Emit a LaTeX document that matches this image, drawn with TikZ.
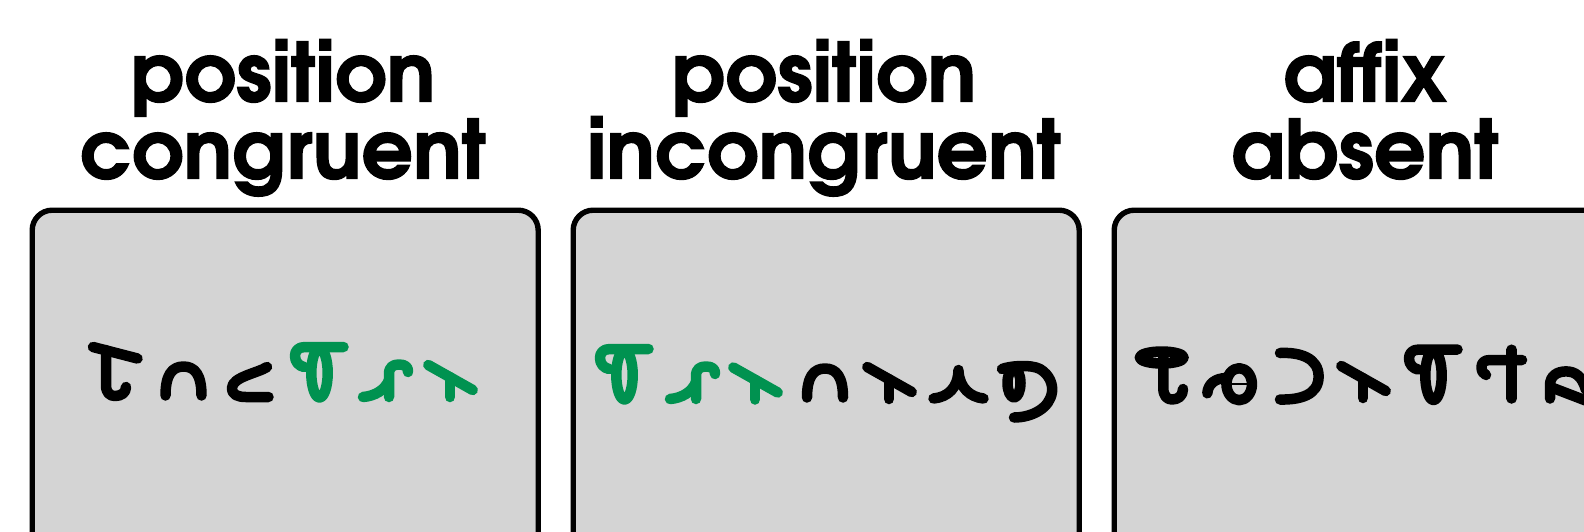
\documentclass[tikz,border=0pt]{standalone}
\usepackage{fontspec}
\newfontfamily\titlefont{texgyreadventor-bold}[Extension=.otf, FakeBold=1.6]
\definecolor{glgreen}{RGB}{0,146,80}
\definecolor{panelgray}{RGB}{212,212,212}
\tikzset{
  glyph/.style={line width=10.5pt, line cap=round, line join=round},
  panel/.style={draw=black, line width=5.4pt, fill=panelgray, rounded corners=20pt,
    minimum width=506pt, minimum height=420pt, anchor=north west, inner sep=0pt},
  title/.style={font=\titlefont\fontsize{81}{75}\selectfont, anchor=base, inner sep=0pt},
  gA/.pic={
    \draw[glyph] (93,347) -- (137.5,358.5);
    \draw[glyph] (106,350) -- (106,385) .. controls (106,393) and (110,396) .. (115,396)
      .. controls (121,396) and (126,393) .. (126,387);
  },
  gN/.pic={
    \draw[glyph] (165.5,395.5) .. controls (165.5,375) and (172,366.5) .. (183.5,366.5)
      .. controls (195,366.5) and (201.5,375) .. (201.5,395.5);
  },
  gC/.pic={
    \draw[glyph] (267,367) .. controls (258,373) and (232,377) .. (232,388)
      .. controls (232,395) and (238,397) .. (246,397) -- (268.5,397);
  },
  gD/.pic={
    \draw[glyph] (343.5,347) -- (305,347) .. controls (298,347) and (295,351) .. (295,356)
      .. controls (295,362) and (299,366) .. (304,367);
    \draw[glyph] (319.5,373) ellipse [x radius=8.2pt, y radius=24.5pt];
  },
  gE/.pic={
    \draw[glyph] (389,397) -- (389,374) .. controls (389,367) and (393,364.5) .. (399,364.5)
      .. controls (405,364.5) and (408.5,367) .. (408,372);
    \draw[glyph] (363,397) .. controls (375,396) and (385,390) .. (389,380);
  },
  gF/.pic={
    \draw[glyph] (428.3,365) -- (472.7,390);
    \draw[glyph] (450,377) -- (450,397);
  },
  gL/.pic={
    \draw[glyph] (958.5,370) .. controls (958,388) and (948,397) .. (933.5,398.5);
    \draw[glyph] (958.5,372) .. controls (960,388) and (970,397) .. (983.5,398.5);
  },
  gNine/.pic={
    \draw[glyph] (1002,369) .. controls (1010,366) and (1030,364) .. (1040,369)
      .. controls (1050,375) and (1053,385) .. (1052,392)
      .. controls (1050,408) and (1032,417.5) .. (1014,417.5);
    \draw[glyph] (1014,383) ellipse [x radius=6.5pt, y radius=14.5pt];
  },
  gRing/.pic={
    \draw[glyph] (1161.7,357.5) ellipse [x radius=21.9pt, y radius=6pt];
    \draw[glyph] (1163.3,357) -- (1163.3,388) .. controls (1163.3,396) and (1167,399.5) .. (1172,399.5)
      .. controls (1178,399.5) and (1183,396) .. (1183,389);
  },
  gTheta/.pic={
    \draw[glyph] (1239.2,384.2) ellipse [x radius=12.75pt, y radius=16pt];
    \draw[line width=2.5pt] (1227,384.2) -- (1251.5,384.2);
    \draw[glyph] (1207.3,393.3) .. controls (1208,384) and (1215,378) .. (1227,378);
  },
  gRev/.pic={
    \draw[glyph] (1280,353) .. controls (1300,352) and (1318.6,358) .. (1318.6,376.5)
      .. controls (1318.6,395) and (1300,400) .. (1280,399.5);
  },
  gCross/.pic={
    \draw[glyph] (1522,360) -- (1490,360) .. controls (1484,360) and (1481.5,363) .. (1481.5,367)
      .. controls (1481.5,371) and (1483,374) .. (1486,375);
    \draw[glyph] (1511.7,349.7) -- (1511.7,398.5);
  },
  gLast/.pic={
    \draw[glyph] (1550,398.5) -- (1550,385) .. controls (1550,376) and (1557,371.4) .. (1566,371.4)
      .. controls (1575,371.4) and (1582,376) .. (1586,390);
    \draw[glyph] (1553,388) -- (1600,406);
  }
}
\begin{document}
\begin{tikzpicture}[x=1pt, y=-1pt]
\useasboundingbox (0,0) rectangle (1584,531);
\clip (0,0) rectangle (1584,531);
% panels
\node[panel] (b1) at (29.5,207.5) {};
\node[panel] (b2) at (570.5,207.5) {};
\node[panel] (b3) at (1111.5,207.5) {};
% titles
\node[title] (t1a) at (283,101.5) {position};
\node[title] (t1b) at (283,178.5) {congruent};
\node[title] (t2a) at (824,101.5) {position};
\node[title] (t2b) at (824,178.5) {incongruent};
\node[title] (t3a) at (1365,101.5) {affix};
\node[title] (t3b) at (1365,178.5) {absent};
% panel 1 glyphs
\pic (a1) at (0,0) {gA};
\pic (a2) at (0,0) {gN};
\pic (a3) at (0,0) {gC};
\pic[color=glgreen] (a4) at (0,0) {gD};
\pic[color=glgreen] (a5) at (0,0) {gE};
\pic[color=glgreen] (a6) at (0,0) {gF};
% panel 2 glyphs
\pic[color=glgreen] (c1) at (305,2) {gD};
\pic[color=glgreen] (c2) at (307,2) {gE};
\pic[color=glgreen] (c3) at (305,2.5) {gF};
\pic (c4) at (641.5,2) {gN};
\pic (c5) at (439,2) {gF};
\pic (c6) at (0,0) {gL};
\pic (c7) at (0,0) {gNine};
% panel 3 glyphs
\pic (d1) at (0,0) {gRing};
\pic (d2) at (0,0) {gTheta};
\pic (d3) at (0,0) {gRev};
\pic (d4) at (913,1) {gF};
\pic (d5) at (1114,2.5) {gD};
\pic (d6) at (0,0) {gCross};
\pic (d7) at (0,0) {gLast};
\end{tikzpicture}
\end{document}
